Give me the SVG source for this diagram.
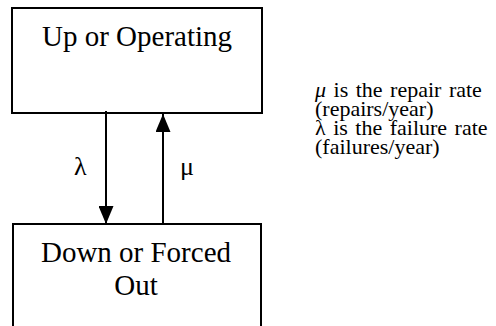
<svg xmlns="http://www.w3.org/2000/svg" width="496" height="326" viewBox="0 0 496 326">
  <style>
    .box { fill: #fff; stroke: #000; stroke-width: 2; }
    .lbl { font-family: "Liberation Serif", "Times New Roman", serif; fill: #000; }
    .big { font-size: 29px; text-anchor: middle; }
    .rate { font-size: 26px; }
    .note { font-size: 22px; }
    .wide { word-spacing: 2px; }
    .edge { stroke: #000; stroke-width: 2; fill: none; }
  </style>
  <defs>
    <marker id="head" markerWidth="9" markerHeight="7.5" refX="9" refY="3.75" orient="auto" markerUnits="strokeWidth">
      <path d="M0,0 L9,3.75 L0,7.5 Z" fill="#000"/>
    </marker>
  </defs>

  <g id="up">
    <rect class="box" x="12" y="8" width="250" height="105"/>
    <text class="lbl big" x="137" y="46">Up or Operating</text>
  </g>

  <g id="down">
    <rect class="box" x="13" y="224" width="248" height="110"/>
    <text class="lbl big" x="136" y="262">Down or Forced</text>
    <text class="lbl big" x="136" y="295">Out</text>
  </g>

  <g id="connectors">
    <line class="edge" x1="106" y1="111" x2="106" y2="224" marker-end="url(#head)"/>
    <line class="edge" x1="163" y1="224" x2="163" y2="114" marker-end="url(#head)"/>
    <text class="lbl rate" x="74" y="175">λ</text>
    <text class="lbl rate" x="180" y="175">μ</text>
  </g>

  <g id="legend" class="lbl note">
    <text class="wide" x="315" y="97"><tspan font-style="italic">μ</tspan> is the repair rate</text>
    <text x="315" y="116">(repairs/year)</text>
    <text class="wide" x="315" y="135">λ is the failure rate</text>
    <text x="315" y="154">(failures/year)</text>
  </g>
</svg>
